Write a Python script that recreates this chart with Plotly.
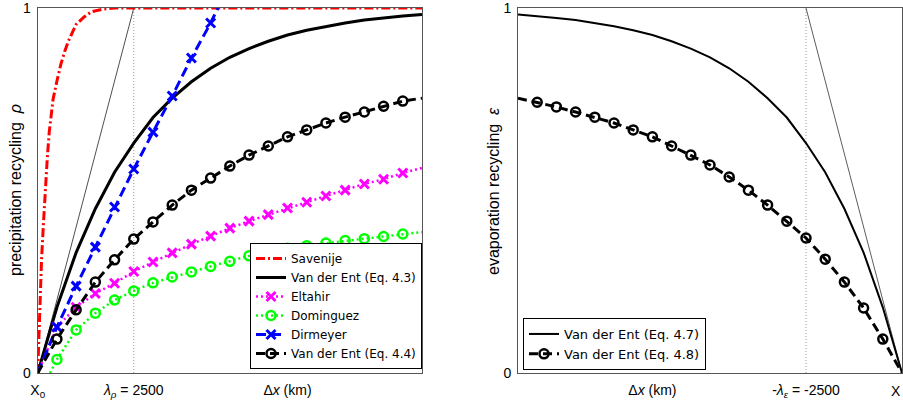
import plotly.graph_objects as go

W, H = 903, 406
LAMBDA = 2500

# ---------------- left panel data (precipitation recycling) ----------------
DX = [0, 500, 1000, 1500, 2000, 2500, 3000, 3500, 4000, 4500, 5000,
      5500, 6000, 6500, 7000, 7500, 8000, 8500, 9000, 9500, 10000]
RHO_VDE43 = [0, 0.18, 0.33, 0.45, 0.55, 0.63, 0.70, 0.753, 0.798, 0.835, 0.865,
             0.889, 0.909, 0.926, 0.939, 0.950, 0.959, 0.967, 0.973, 0.978, 0.982]
RHO_VDE44 = [0, 0.093, 0.173, 0.249, 0.310, 0.367, 0.414, 0.460, 0.501, 0.534, 0.567,
             0.597, 0.622, 0.647, 0.666, 0.685, 0.701, 0.715, 0.731, 0.745, 0.753]
RHO_ELTAHIR = [0, 0.126, 0.180, 0.218, 0.246, 0.278, 0.304, 0.329, 0.353, 0.375, 0.397,
               0.416, 0.434, 0.452, 0.468, 0.485, 0.501, 0.518, 0.531, 0.548, 0.562]
DX_DOM = [320, 500, 1000, 1500, 2000, 2500, 3000, 3500, 4000, 4500, 5000,
          5500, 6000, 6500, 7000, 7500, 8000, 8500, 9000, 9500, 10000]
RHO_DOM = [0, 0.037, 0.118, 0.164, 0.200, 0.225, 0.247, 0.263, 0.277, 0.292, 0.306,
           0.321, 0.332, 0.342, 0.349, 0.356, 0.363, 0.368, 0.374, 0.381, 0.386]
DX_DIR = [0, 500, 1000, 1500, 2000, 2500, 3000, 3500, 4000, 4500, 4690]
RHO_DIR = [0, 0.126, 0.238, 0.345, 0.455, 0.559, 0.660, 0.759, 0.863, 0.959, 1.0]
DX_SAV = [0, 50, 100, 150, 200, 250, 300, 400, 500, 600, 700, 800, 1000,
          1200, 1400, 1700, 2000, 10000]
RHO_SAV = [0, 0.16, 0.31, 0.41, 0.51, 0.59, 0.66, 0.75, 0.80, 0.845, 0.88, 0.91, 0.955,
           0.975, 0.99, 0.997, 1.0, 1.0]

# ---------------- right panel data (evaporation recycling) ----------------
DX_E = [-10000, -9500, -9000, -8500, -8000, -7500, -7000, -6500, -6000, -5500, -5000,
        -4500, -4000, -3500, -3000, -2500, -2000, -1500, -1000, -500, 0]
EPS_47 = [0.982, 0.978, 0.973, 0.967, 0.959, 0.950, 0.939, 0.926, 0.909, 0.889, 0.865,
          0.835, 0.798, 0.753, 0.70, 0.63, 0.55, 0.45, 0.33, 0.18, 0]
EPS_48 = [0.753, 0.742, 0.729, 0.715, 0.701, 0.685, 0.666, 0.647, 0.622, 0.597, 0.570,
          0.537, 0.501, 0.460, 0.416, 0.370, 0.312, 0.249, 0.178, 0.093, 0]

# tick labels
LEFT_TICKS = [0, 2500, 6500]
LEFT_TICKTEXT = ["X<sub>0</sub>", "<i>λ</i><sub><i>ρ</i></sub> = 2500", "Δ<i>x</i> (km)"]
RIGHT_TICKS = [-6500, -2500]
RIGHT_TICKTEXT = ["Δ<i>x</i> (km)", "-<i>λ</i><sub><i>ε</i></sub> = -2500"]
Y_TICKS = [0, 1]
Y_TICKTEXT = ["0", "1"]

FONT = "Liberation Sans, Arial, sans-serif"
LFONT = "DejaVu Sans, sans-serif"

fig = go.Figure()

def px_x(p):
    return p / W

def px_y(p):
    return 1 - p / H

# reference lines (left)
fig.add_trace(go.Scatter(x=[LAMBDA, LAMBDA], y=[0, 1], mode="lines", showlegend=False,
                         line=dict(color="#999999", width=1, dash="1px,2px"),
                         xaxis="x", yaxis="y", hoverinfo="skip"))
fig.add_trace(go.Scatter(x=[0, LAMBDA], y=[0, 1], mode="lines", showlegend=False,
                         line=dict(color="#222222", width=0.8),
                         xaxis="x", yaxis="y", hoverinfo="skip"))

def series(x, y, name, color, dash, width, symbol=None, msize=9, mlw=2.5,
           xa="x", ya="y", legend="legend", mx=None, my=None):
    fig.add_trace(go.Scatter(x=x, y=y, mode="lines", showlegend=False,
                             line=dict(color=color, width=width, dash=dash),
                             xaxis=xa, yaxis=ya, hoverinfo="skip"))
    if symbol is not None:
        fig.add_trace(go.Scatter(x=mx, y=my, mode="markers", showlegend=False,
                                 marker=dict(symbol=symbol, size=msize, color=color,
                                             line=dict(color=color, width=mlw)),
                                 xaxis=xa, yaxis=ya, hoverinfo="skip", cliponaxis=False))
    fig.add_trace(go.Scatter(x=[None], y=[None], name=name,
                             mode="lines+markers" if symbol else "lines",
                             line=dict(color=color, width=width, dash=dash),
                             marker=dict(symbol=symbol if symbol else "circle", size=msize,
                                         color=color, line=dict(color=color, width=mlw)),
                             xaxis=xa, yaxis=ya, legend=legend))

series(DX_SAV, RHO_SAV, "Savenije", "#FF0000", "9px,3px,2px,3px", 3)
series(DX, RHO_VDE43, "Van der Ent (Eq. 4.3)", "#000000", None, 3)
series(DX, RHO_ELTAHIR, "Eltahir", "#FF00FF", "2px,3px", 2.5, "x-thin", 9, 3,
       mx=DX[1:-1], my=RHO_ELTAHIR[1:-1])
series(DX_DOM, RHO_DOM, "Dominguez", "#00FF00", "2px,3px", 2.5, "circle-open", 9, 2.5,
       mx=DX_DOM[1:-1], my=RHO_DOM[1:-1])
series(DX_DIR, RHO_DIR, "Dirmeyer", "#0000FF", "10px,5px", 3, "x-thin", 9, 3,
       mx=DX_DIR[1:-1], my=RHO_DIR[1:-1])
series(DX, RHO_VDE44, "Van der Ent (Eq. 4.4)", "#000000", "9px,5px", 3, "circle-open", 9, 2.5,
       mx=DX[1:-1], my=RHO_VDE44[1:-1])

# right panel
fig.add_trace(go.Scatter(x=[-LAMBDA, -LAMBDA], y=[0, 1], mode="lines", showlegend=False,
                         line=dict(color="#999999", width=1, dash="1px,2px"),
                         xaxis="x2", yaxis="y2", hoverinfo="skip"))
fig.add_trace(go.Scatter(x=[-LAMBDA, 0], y=[1, 0], mode="lines", showlegend=False,
                         line=dict(color="#333333", width=0.8),
                         xaxis="x2", yaxis="y2", hoverinfo="skip"))
series(DX_E, EPS_47, "Van der Ent (Eq. 4.7)", "#000000", None, 2, xa="x2", ya="y2",
       legend="legend2")
series(DX_E, EPS_48, "Van der Ent (Eq. 4.8)", "#000000", "9px,5px", 3, "circle-open", 9, 2.5,
       xa="x2", ya="y2", legend="legend2", mx=DX_E[1:-1], my=EPS_48[1:-1])

axis_common = dict(showline=True, mirror=True, linecolor="#555555", linewidth=1,
                   showgrid=False, zeroline=False, ticks="", automargin=False,
                   ticklabeloverflow="allow",
                   tickfont=dict(family=FONT, size=14, color="black"))

ydom = [px_y(373), px_y(8)]
fig.update_layout(
    width=W, height=H, autosize=False,
    margin=dict(l=0, r=0, t=0, b=0, pad=0),
    paper_bgcolor="white", plot_bgcolor="white",
    font=dict(family=FONT, size=14, color="black"),
    xaxis=dict(domain=[px_x(37.7), px_x(422)], range=[0, 10000],
               tickvals=LEFT_TICKS, ticktext=LEFT_TICKTEXT, ticklabelstandoff=4,
               anchor="y", **axis_common),
    yaxis=dict(domain=ydom, range=[0, 1.0001], tickvals=Y_TICKS, ticktext=Y_TICKTEXT,
               ticklabelstandoff=3, anchor="x", **axis_common),
    xaxis2=dict(domain=[px_x(518), px_x(902)], range=[-10000, 0],
                tickvals=RIGHT_TICKS, ticktext=RIGHT_TICKTEXT, ticklabelstandoff=4,
                anchor="y2", **axis_common),
    yaxis2=dict(domain=ydom, range=[0, 1.0001], tickvals=Y_TICKS, ticktext=Y_TICKTEXT,
                ticklabelstandoff=3, anchor="x2", **axis_common),
    legend=dict(x=px_x(422), y=px_y(369), xanchor="right", yanchor="bottom",
                bgcolor="white", bordercolor="black", borderwidth=1,
                font=dict(family=LFONT, size=12, color="black"), itemwidth=30,
                tracegroupgap=0),
    legend2=dict(x=px_x(523), y=px_y(370), xanchor="left", yanchor="bottom",
                 bgcolor="white", bordercolor="black", borderwidth=1,
                 font=dict(family=LFONT, size=13, color="black"), itemwidth=30,
                 tracegroupgap=0),
    annotations=[
        dict(text="precipitation recycling&nbsp;&nbsp;<i>ρ</i>", textangle=-90,
             x=px_x(15), y=px_y(190), xref="paper", yref="paper", showarrow=False,
             xanchor="center", yanchor="middle", font=dict(family=FONT, size=16)),
        dict(text="evaporation recycling&nbsp;&nbsp;<i>ε</i>", textangle=-90,
             x=px_x(493), y=px_y(191), xref="paper", yref="paper", showarrow=False,
             xanchor="center", yanchor="middle", font=dict(family=FONT, size=16)),
        dict(text="X", x=1.0, y=px_y(391), xref="paper", yref="paper", showarrow=False,
             xanchor="right", yanchor="middle", font=dict(family=FONT, size=14)),
    ],
    showlegend=True,
)

fig.write_html("out.html", config={"displayModeBar": False},
               post_script="document.body.style.margin='0';document.body.style.overflow='hidden';")
